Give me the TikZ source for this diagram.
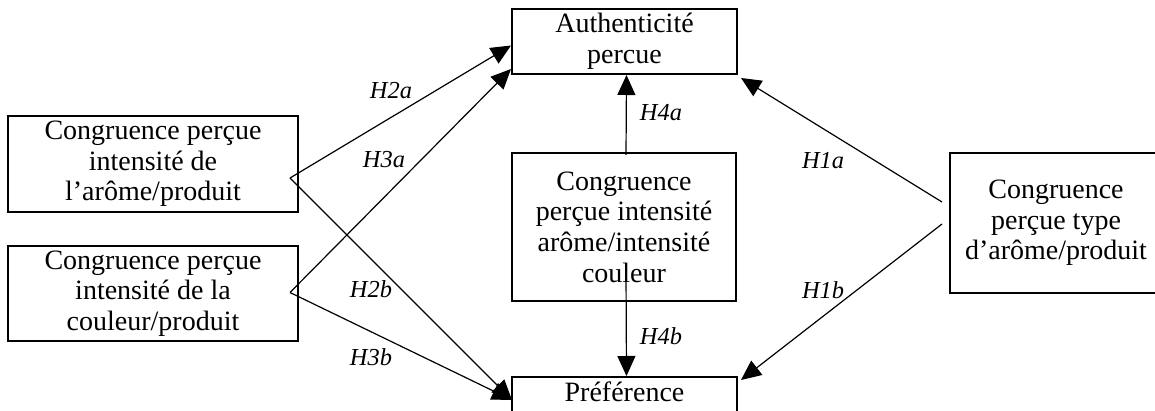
\documentclass[tikz,border=0pt]{standalone}
\usepackage{fontspec}
\setmainfont{Liberation Serif}
\usetikzlibrary{arrows.meta,calc}

\begin{document}
\begin{tikzpicture}[x=0.5pt,y=-0.5pt,
    varbox/.style={draw,
      line width=1pt,
      align=center,
      inner sep=0pt,
      font=\fontsize{14}{15.3}\selectfont},
    vartext/.style={align=center,
      inner sep=0pt,
      font=\fontsize{14}{15.3}\selectfont},
    hyp/.style={font=\fontsize{12.2}{14}\selectfont\itshape},
    link/.style={-{Triangle[length=10pt,width=9pt]}, line width=0.6pt}]
    \useasboundingbox (0,0) rectangle (1155,411);

    % Authenticite percue
    \node[varbox,
      minimum width=112.5pt,
      minimum height=32.5pt] (auth) at (624.5,41.5) {Authenticité\\percue};

    % Congruence arome/intensite couleur
    \node[varbox,
      minimum width=112pt,
      minimum height=74pt] (mid) at (624,227) {Congruence\\perçue intensité\\arôme/intensité\\couleur};

    % Preference
    \node[varbox,
      anchor=north,
      minimum width=112.5pt,
      text height=10pt,
      text depth=30pt,
      inner ysep=2pt] (pref) at (624.5,376) {Préférence};

    % Congruence intensite arome
    \node[varbox,
      minimum width=145pt,
      minimum height=48pt] (arome) at (153,164) {Congruence perçue\\intensité de\\l’arôme/produit};

    % Congruence intensite couleur
    \node[varbox,
      minimum width=145pt,
      minimum height=47.5pt] (couleur) at (153,293.5) {Congruence perçue\\intensité de la\\couleur/produit};

    % Congruence type d'arome (box runs past the right edge)
    \node[varbox,
      minimum width=116pt,
      minimum height=70pt] (type) at (1066,223) {};
    \node[vartext] (typetext) at (1056,223) {Congruence\\perçue type\\d’arôme/produit};

    % Start points
    \coordinate (sarome) at ($(arome.east)+(-9,14)$);
    \coordinate (scouleur) at ($(couleur.east)+(-9,-1)$);
    \coordinate (stypea) at ($(type.west)+(-7,-21)$);
    \coordinate (stypeb) at ($(type.west)+(-7,1)$);

    % Draw Arrows
    \draw[link] (sarome) -- ($(auth.west)+(0,4)$);
    \draw[link] (scouleur) -- ($(auth.south west)+(0,-6)$);
    \draw[link] (sarome) -- ($(pref.north west)+(1,24)$);
    \draw[link] (scouleur) -- ($(pref.north west)+(1,24)$);
    \draw[link] (stypea) -- ($(auth.south east)+(3,3)$);
    \draw[link] (stypeb) -- ($(pref.north east)+(3,4)$);
    \draw[link] ($(mid.north)+(2,3)$) -- ($(auth.south)+(2,0)$);
    \draw[link] ($(mid.south)+(2,-29)$) -- ($(pref.north)+(2,0)$);

    % Text labels
    \node[hyp] (h2a) at (391,91) {H2a};
    \node[hyp] (h3a) at (384,160) {H3a};
    \node[hyp] (h2b) at (371,289) {H2b};
    \node[hyp] (h3b) at (371,357) {H3b};
    \node[hyp] (h4a) at (661,113) {H4a};
    \node[hyp] (h4b) at (661,336) {H4b};
    \node[hyp] (h1a) at (823,161) {H1a};
    \node[hyp] (h1b) at (823,290) {H1b};

  \end{tikzpicture}
\end{document}
